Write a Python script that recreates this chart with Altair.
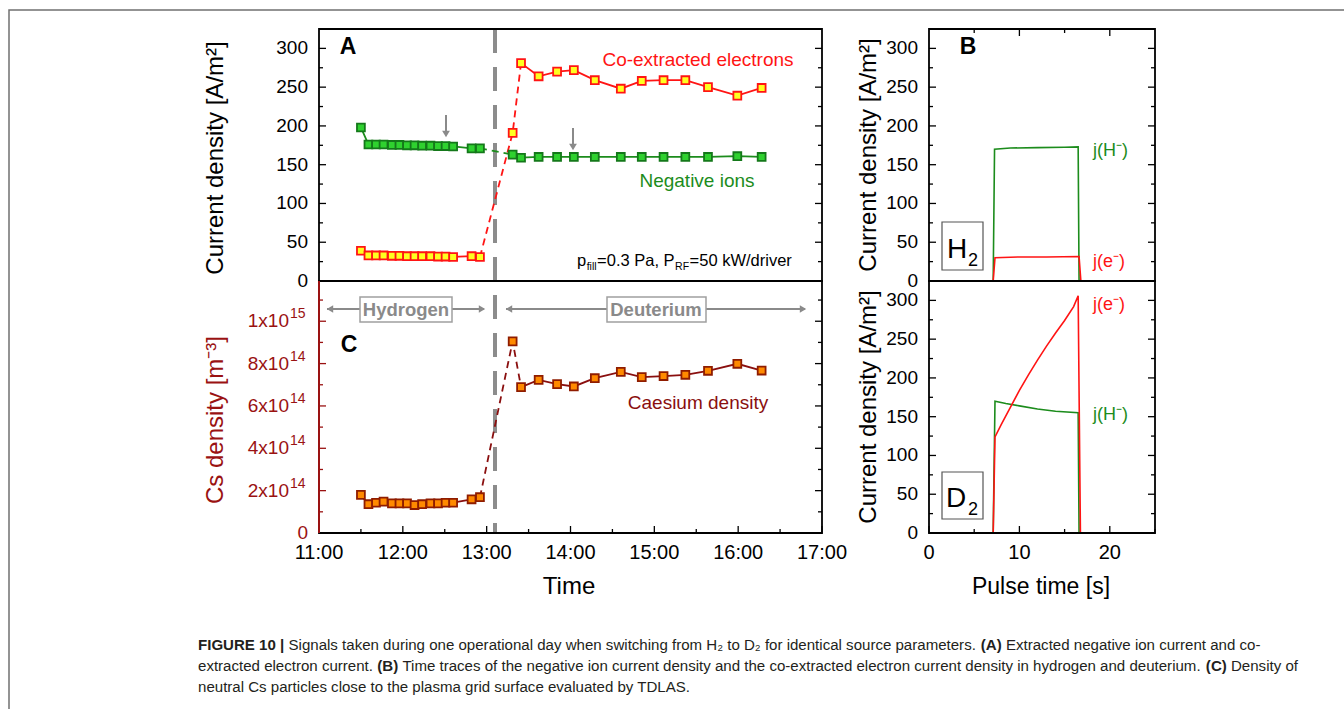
import altair as alt
import pandas as pd

FONT = "Liberation Sans"

# ---------------- measured values ----------------
# time of each pulse during the operational day (decimal hours)
times = [11.50, 11.59, 11.68, 11.77, 11.87, 11.96, 12.05, 12.14, 12.23, 12.33, 12.42, 12.51, 12.60,
         12.82, 12.92,
         13.31, 13.41, 13.62, 13.84, 14.04, 14.29, 14.60, 14.85, 15.11, 15.37, 15.64, 15.99, 16.28]
# extracted negative ion current density [A/m^2]
neg_ions = [198, 176, 176, 176, 175.5, 175.5, 175, 175, 174.5, 174.5, 174, 174, 173.5,
            171, 171,
            163, 159, 160, 160, 160, 160, 160, 160, 160, 160, 160, 161, 160]
# co-extracted electron current density [A/m^2]
electrons = [39, 33, 33, 33, 32.5, 32.5, 32, 32, 32, 32, 31.5, 31.5, 31,
             32, 31,
             191, 281, 264, 270, 272, 259, 248, 258, 259, 259, 250, 239, 249]
# neutral caesium density [m^-3]
cs_density = [1.80e14, 1.36e14, 1.43e14, 1.48e14, 1.40e14, 1.40e14, 1.40e14, 1.32e14, 1.36e14,
              1.40e14, 1.40e14, 1.43e14, 1.43e14,
              1.59e14, 1.69e14,
              9.05e14, 6.89e14, 7.23e14, 7.03e14, 6.92e14, 7.31e14, 7.61e14, 7.36e14, 7.41e14,
              7.47e14, 7.66e14, 7.99e14, 7.67e14]

# time traces within one pulse (pulse time [s], current density [A/m^2])
h2_ion_t = [0, 7.1, 7.25, 9, 12, 15, 16.5, 16.6, 25]
h2_ion = [0, 0, 170, 171.5, 172, 172.5, 173, 0, 0]
h2_ele_t = [0, 7.1, 7.3, 10, 13, 16.6, 16.8, 25]
h2_ele = [0, 0, 30, 31, 31, 31.5, 0, 0]
d2_ion_t = [0, 7.1, 7.3, 8.5, 10, 12, 14, 16.5, 16.6, 25]
d2_ion = [0, 0, 170, 167, 164, 160, 157, 155, 0, 0]
d2_ele_t = [0, 7.1, 7.3, 8.0, 9.0, 10.0, 11.0, 12.0, 13.0, 14.0, 15.0, 16.0, 16.5, 16.75, 25]
d2_ele = [0, 0, 124, 140, 162, 184, 204, 223, 241, 258, 274, 292, 306, 0, 0]

# axis tick values
cur_major = [0, 50, 100, 150, 200, 250, 300]
cur_minor = [25, 75, 125, 175, 225, 275, 325]
cs_major = [0, 2e14, 4e14, 6e14, 8e14, 1e15]
cs_minor = [1e14, 3e14, 5e14, 7e14, 9e14, 1.1e15]
cs_mant = ["2x10", "4x10", "6x10", "8x10", "1x10"]
cs_exp = ["14", "14", "14", "14", "15"]
hour_major = [11, 12, 13, 14, 15, 16, 17]
hour_minor = [11.5, 12.5, 13.5, 14.5, 15.5, 16.5]
hour_labels = ["11:00", "12:00", "13:00", "14:00", "15:00", "16:00", "17:00"]
pulse_major = [0, 10, 20]
pulse_minor = [5, 15, 25]

# ---------------- layout (pixels) ----------------
T0, T1 = 319, 822       # time axis 11:00 .. 17:00
TOP, MID, BOT = 29, 281, 533
P0, P1 = 929, 1155      # pulse time axis 0 .. 25 s

RED = "#ff1414"
YELLOW = "#ffff20"
GREEN = "#1c8c1c"
GREEN_FILL = "#2fd12f"
GREEN_EDGE = "#14781a"
CS_LINE = "#8a0f0f"
CS_FILL = "#ff8a00"
CS_EDGE = "#8f1c00"
DARKRED = "#9a1212"
GREY = "#8a8a8a"

one = pd.DataFrame({"k": [0]})

# approximate advance widths (1/1000 em) of Liberation Sans, used to run
# mixed regular/bold/sub-scripted text pieces one after another
_REG = {}
for chars, w in [("fIt .,:;/[]!", 278), ("ijl", 222), ("r()-", 333), ("|", 260),
                 ("ckvsxyzJ", 500), ("w", 722), ("mM", 833), ("=", 584),
                 ("ABEKPSVXY", 667), ("CDHNRU", 722), ("FTZ", 611), ("GOQ", 778),
                 ("L", 556), ("W", 944), ("₂", 400)]:
    for c in chars:
        _REG[c] = w
_BOLD = dict(_REG)
for chars, w in [("ABCRU", 722), ("|", 280), ("()", 333)]:
    for c in chars:
        _BOLD[c] = w


def tw(s, size, bold=False):
    tbl = _BOLD if bold else _REG
    return sum(tbl.get(c, 556) for c in s) * size / 1000.0


def sc(domain, rng):
    return alt.Scale(domain=domain, range=rng, nice=False, zero=False)


time_sc = sc([11, 17], [T0, T1])
cur_sc_A = sc([0, 325], [MID, TOP])
cs_sc = sc([0, 1.19e15], [BOT, MID])
pulse_sc = sc([0, 25], [P0, P1])
cur_sc_B = sc([0, 325], [MID, TOP])
cur_sc_D = sc([0, 325], [BOT, MID])


def rule_px(x1, y1, x2, y2, color="black", width=1.0, dash=None):
    kw = dict(color=color, strokeWidth=width)
    if dash:
        kw["strokeDash"] = dash
    return alt.Chart(one).mark_rule(**kw).encode(
        x=alt.value(x1), y=alt.value(y1), x2=alt.value(x2), y2=alt.value(y2))


def box_px(x1, y1, x2, y2, stroke="black", width=1.0, fill="white", fill_opacity=0.0):
    return alt.Chart(one).mark_rect(stroke=stroke, strokeWidth=width, fill=fill,
                                    fillOpacity=fill_opacity).encode(
        x=alt.value(x1), y=alt.value(y1), x2=alt.value(x2), y2=alt.value(y2))


def text_px(s, x, y, size, color="black", bold=False, align="left",
            baseline="alphabetic", angle=0, font=FONT):
    return alt.Chart(one).mark_text(
        text=s, fontSize=size, font=font, color=color,
        fontWeight="bold" if bold else "normal", align=align,
        baseline=baseline, angle=angle).encode(x=alt.value(x), y=alt.value(y))


def text_run(pieces, x, y, color="black"):
    """pieces: (text, size, bold, baseline shift, gap after)"""
    out = []
    for s, size, bold, shift, gap in pieces:
        out.append(text_px(s, x, y + shift, size, color=color, bold=bold))
        x += tw(s, size, bold) + gap
    return out


def head_px(x, y, shape, color=GREY, size=70):
    return alt.Chart(one).mark_point(shape=shape, filled=True, color=color, size=size,
                                     opacity=1).encode(x=alt.value(x), y=alt.value(y))


def yticks(vals, scale, x_edge, length, color="black"):
    df = pd.DataFrame({"v": vals})
    return alt.Chart(df).mark_rule(color=color, strokeWidth=1.3).encode(
        y=alt.Y("v:Q", scale=scale, axis=None),
        x=alt.value(x_edge), x2=alt.value(x_edge + length))


def xticks(vals, scale, y_edge, length, color="black"):
    df = pd.DataFrame({"v": vals})
    return alt.Chart(df).mark_rule(color=color, strokeWidth=1.3).encode(
        x=alt.X("v:Q", scale=scale, axis=None),
        y=alt.value(y_edge), y2=alt.value(y_edge + length))


def ylabels(vals, scale, x, size=19, color="black", align="right", labels=None, dy=0):
    df = pd.DataFrame({"v": vals, "s": labels if labels else [str(int(v)) for v in vals]})
    return alt.Chart(df).mark_text(font=FONT, fontSize=size, color=color, align=align,
                                   baseline="middle", dy=dy).encode(
        y=alt.Y("v:Q", scale=scale, axis=None), x=alt.value(x), text="s:N")


def xlabels(vals, scale, y, labels, size=20):
    df = pd.DataFrame({"v": vals, "s": labels})
    return alt.Chart(df).mark_text(font=FONT, fontSize=size, color="black", align="center",
                                   baseline="middle").encode(
        x=alt.X("v:Q", scale=scale, axis=None), y=alt.value(y), text="s:N")


def day_series(vals, yscale, line_color, fill, edge, first_d):
    """Solid lines inside the H2 and D2 phases, dashed across the gas change."""
    n = len(times)
    df = pd.DataFrame({"t": times, "v": vals, "i": list(range(n))})
    df["phase"] = ["h" if i <= 14 else "d" for i in range(n)]
    solid = df[(df.i <= 14) | (df.i >= first_d)]
    bridge = df[(df.i >= 14) & (df.i <= first_d)]
    x = alt.X("t:Q", scale=time_sc, axis=None)
    y = alt.Y("v:Q", scale=yscale, axis=None)
    return [
        alt.Chart(solid).mark_line(color=line_color, strokeWidth=1.8).encode(
            x=x, y=y, detail="phase:N", order="i:Q"),
        alt.Chart(bridge).mark_line(color=line_color, strokeWidth=1.8, strokeDash=[7, 5]).encode(
            x=x, y=y, order="i:Q"),
        alt.Chart(df).mark_square(size=62, fill=fill, stroke=edge, strokeWidth=1.8,
                                  opacity=1).encode(x=x, y=y),
    ]


def trace(ts, vs, yscale, color):
    df = pd.DataFrame({"t": ts, "v": vs, "i": list(range(len(ts)))})
    return alt.Chart(df).mark_line(color=color, strokeWidth=1.6).encode(
        x=alt.X("t:Q", scale=pulse_sc, axis=None),
        y=alt.Y("v:Q", scale=yscale, axis=None), order="i:Q")


layers = []

# outer figure frame
layers.append(box_px(9, 10, 1400, 800, stroke="#707070", width=1.5))

# ---------- panel A: current densities during the day ----------
layers.append(rule_px(495, TOP, 495, BOT, color="#8c8c8c", width=4, dash=[24, 14]))
layers += day_series(electrons, cur_sc_A, RED, YELLOW, RED, 16)
layers += day_series(neg_ions, cur_sc_A, GREEN, GREEN_FILL, GREEN_EDGE, 15)
# arrows marking the reference pulses
for x, y1, y2 in [(446, 115, 133), (573, 128, 146)]:
    layers.append(rule_px(x, y1, x, y2, color=GREY, width=2))
    layers.append(head_px(x, y2 + 1, "triangle-down", size=60))
layers.append(yticks(cur_major, cur_sc_A, T0, 7))
layers.append(yticks(cur_minor, cur_sc_A, T0, 4))
layers.append(yticks(cur_major, cur_sc_A, T1, -7))
layers.append(yticks(cur_minor, cur_sc_A, T1, -4))
layers.append(ylabels(cur_major, cur_sc_A, 308))
layers.append(text_px("A", 348, 47, 23, bold=True, align="center", baseline="middle"))
layers.append(text_px("Co-extracted electrons", 698, 60, 19, color=RED, align="center",
                      baseline="middle"))
layers.append(text_px("Negative ions", 697, 181, 19, color=GREEN, align="center",
                      baseline="middle"))
PF, PS = 16.5, 10.5
layers += text_run([("p", PF, False, 0, 0.5), ("fill", PS, False, 4, 0.5),
                    ("=0.3 Pa, P", PF, False, 0, 0.5), ("RF", PS, False, 4, 0.5),
                    ("=50 kW/driver", PF, False, 0, 0)], 577, 266)
layers.append(text_px("Current density [A/m²]", 216, 158, 24, align="center",
                      baseline="middle", angle=270))

# ---------- panel C: caesium density ----------
layers += day_series(cs_density, cs_sc, CS_LINE, CS_FILL, CS_EDGE, 16)
layers.append(yticks(cs_major, cs_sc, T0, 7, color=DARKRED))
layers.append(yticks(cs_minor, cs_sc, T0, 4, color=DARKRED))
layers.append(yticks(cs_major, cs_sc, T1, -7))
layers.append(yticks(cs_minor, cs_sc, T1, -4))
layers.append(xticks(hour_major, time_sc, BOT, -7))
layers.append(xticks(hour_minor, time_sc, BOT, -4))
layers.append(ylabels([0], cs_sc, 308, color=DARKRED))
layers.append(ylabels(cs_major[1:], cs_sc, 289, color=DARKRED, labels=cs_mant))
layers.append(ylabels(cs_major[1:], cs_sc, 290, size=14, color=DARKRED, align="left",
                      labels=cs_exp, dy=-7))
layers.append(xlabels(hour_major, time_sc, 553, hour_labels))
layers.append(text_px("Time", 569, 587, 24, align="center", baseline="middle"))
layers.append(text_px("C", 349, 345, 23, bold=True, align="center", baseline="middle"))
layers.append(text_px("Caesium density", 698, 403, 19, color=CS_LINE, align="center",
                      baseline="middle"))
layers.append(text_px("Cs density [m⁻³]", 216, 420, 24, color=DARKRED, align="center",
                      baseline="middle", angle=270))
# hydrogen / deuterium phase markers
for x1, x2 in [(327, 360), (452, 484), (506, 607), (706, 805)]:
    layers.append(rule_px(x1, 309, x2, 309, color=GREY, width=2))
for x, shape in [(330, "triangle-left"), (482, "triangle-right"),
                 (509, "triangle-left"), (803, "triangle-right")]:
    layers.append(head_px(x, 309, shape, size=55))
layers.append(box_px(360, 297, 452, 322, stroke="#a0a0a0", width=1.5, fill_opacity=1))
layers.append(box_px(607, 297, 706, 322, stroke="#a0a0a0", width=1.5, fill_opacity=1))
layers.append(text_px("Hydrogen", 406, 310, 18.5, color=GREY, bold=True, align="center",
                      baseline="middle"))
layers.append(text_px("Deuterium", 656, 310, 18.5, color=GREY, bold=True, align="center",
                      baseline="middle"))

# frames of A and C (left spine of C in dark red)
layers.append(box_px(T0, TOP, T1, MID, width=1.8))
layers.append(box_px(T0, MID, T1, BOT, width=1.8))
layers.append(rule_px(T0, MID, T0, BOT, color=DARKRED, width=2))

# ---------- panel B: H2 pulse ----------
layers.append(trace(h2_ion_t, h2_ion, cur_sc_B, GREEN))
layers.append(trace(h2_ele_t, h2_ele, cur_sc_B, RED))
layers.append(yticks(cur_major, cur_sc_B, P0, 7))
layers.append(yticks(cur_minor, cur_sc_B, P0, 4))
layers.append(yticks(cur_major, cur_sc_B, P1, -7))
layers.append(yticks(cur_minor, cur_sc_B, P1, -4))
layers.append(xticks([10, 20], pulse_sc, TOP, 7))
layers.append(xticks([5, 15], pulse_sc, TOP, 4))
layers.append(ylabels(cur_major, cur_sc_B, 918))
layers.append(text_px("B", 968, 47, 23, bold=True, align="center", baseline="middle"))
layers.append(text_px("j(H⁻)", 1093, 151, 18, color=GREEN, baseline="middle"))
layers.append(text_px("j(e⁻)", 1093, 262, 18, color=RED, baseline="middle"))
layers.append(box_px(942, 222, 983, 270, stroke="#555555", width=1.2, fill_opacity=1))
layers.append(text_px("H", 947, 258, 28))
layers.append(text_px("2", 968, 266, 18))
layers.append(text_px("Current density [A/m²]", 869, 155, 24, align="center",
                      baseline="middle", angle=270))

# ---------- panel D: D2 pulse ----------
layers.append(trace(d2_ion_t, d2_ion, cur_sc_D, GREEN))
layers.append(trace(d2_ele_t, d2_ele, cur_sc_D, RED))
layers.append(yticks(cur_major, cur_sc_D, P0, 7))
layers.append(yticks(cur_minor, cur_sc_D, P0, 4))
layers.append(yticks(cur_major, cur_sc_D, P1, -7))
layers.append(yticks(cur_minor, cur_sc_D, P1, -4))
layers.append(xticks(pulse_major, pulse_sc, BOT, -7))
layers.append(xticks(pulse_minor, pulse_sc, BOT, -4))
layers.append(ylabels(cur_major, cur_sc_D, 918))
layers.append(xlabels(pulse_major, pulse_sc, 553, [str(v) for v in pulse_major]))
layers.append(text_px("Pulse time [s]", 1041, 587, 23, align="center", baseline="middle"))
layers.append(text_px("j(e⁻)", 1093, 305, 18, color=RED, baseline="middle"))
layers.append(text_px("j(H⁻)", 1093, 415, 18, color=GREEN, baseline="middle"))
layers.append(box_px(942, 472, 983, 519, stroke="#555555", width=1.2, fill_opacity=1))
layers.append(text_px("D", 946, 507, 28))
layers.append(text_px("2", 968, 515, 18))
layers.append(text_px("Current density [A/m²]", 869, 407, 24, align="center",
                      baseline="middle", angle=270))
layers.append(box_px(P0, TOP, P1, MID, width=1.8))
layers.append(box_px(P0, MID, P1, BOT, width=1.8))

# ---------- caption ----------
CAPC = "#231f20"
cap_lines = [
    [("FIGURE 10 |", True),
     ("Signals taken during one operational day when switching from H₂ to D₂ for identical source parameters.", False),
     ("(A)", True), ("Extracted negative ion current and co-", False)],
    [("extracted electron current.", False), ("(B)", True),
     ("Time traces of the negative ion current density and the co-extracted electron current density in hydrogen and deuterium.", False),
     ("(C)", True), ("Density of", False)],
    [("neutral Cs particles close to the plasma grid surface evaluated by TDLAS.", False)],
]


def line_units(line):
    return sum(tw(s, 1.0, b) for s, b in line) + (len(line) - 1) * tw(" ", 1.0)


# font size chosen so that the caption stays inside the frame
CAP = min(16.0, 1124.0 / line_units(cap_lines[0]), 1100.0 / line_units(cap_lines[1]))
for k, line in enumerate(cap_lines):
    pieces = [(s, CAP, b, 0, tw(" ", CAP)) for s, b in line]
    layers += text_run(pieces, 198, 650 + 21 * k, color=CAPC)

chart = alt.layer(*layers).resolve_scale(x="independent", y="independent").properties(
    width=1344, height=709, autosize="none", padding=0, background="white"
).configure_view(stroke=None)

chart.save("out.html", embed_options={"renderer": "svg", "actions": False})
